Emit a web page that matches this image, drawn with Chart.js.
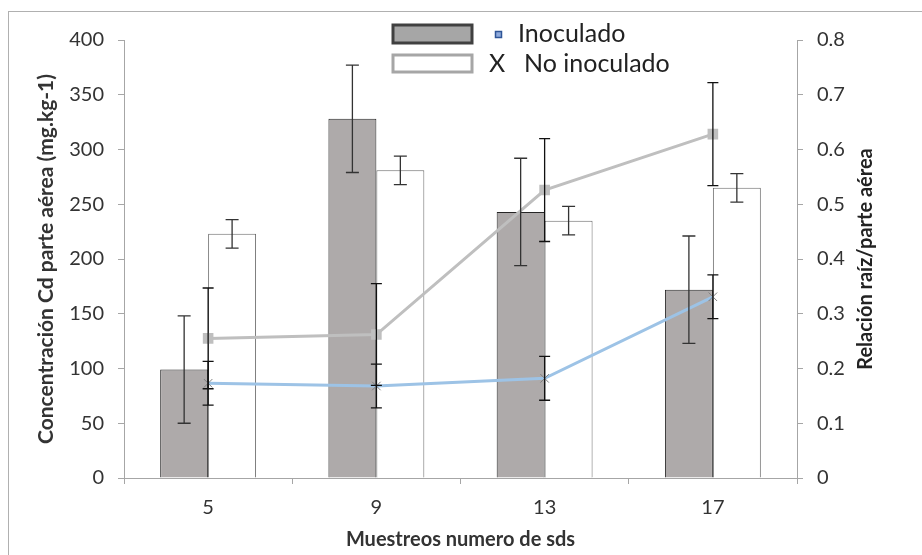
<!DOCTYPE html>
<html>
<head>
<meta charset="utf-8">
<script src="https://cdn.jsdelivr.net/npm/chart.js@4.4.1/dist/chart.umd.min.js"></script>
<style>
  html, body { margin: 0; padding: 0; background: #fff; }
  #wrap { width: 922px; height: 555px; }
</style>
</head>
<body>
<div id="wrap"><canvas id="chart" width="922" height="555"></canvas></div>
<script>
// muestreos (numero de sds)
let categories = ['5', '9', '13', '17'];

// concentracion Cd parte aerea (mg.kg-1)
let inoculado = [99, 328, 243, 172];
let inoculadoErr = [49, 49, 49, 49];
let noInoculado = [223, 281, 235, 265];
let noInoculadoErr = [13, 13, 13, 13];

// relacion raiz/parte aerea
let relacionGris = [0.255, 0.262, 0.526, 0.628];
let relacionGrisErr = [0.092, 0.093, 0.094, 0.094];
let relacionAzul = [0.173, 0.168, 0.182, 0.331];
let relacionAzulErr = [0.04, 0.04, 0.04, 0.04];

Chart.defaults.font.family = 'Lato, "Open Sans", sans-serif';
Chart.defaults.color = '#333';

let axisColor = '#a6a6a6';

// whiskers for every dataset that carries an "err" array
let errorBars = {
    id: 'errorBars',
    afterDatasetsDraw(chart) {
        let ctx = chart.ctx;
        chart.data.datasets.forEach((ds, i) => {
            if (!ds.err) return;
            let meta = chart.getDatasetMeta(i);
            let scale = chart.scales[ds.yAxisID];
            ctx.save();
            ctx.strokeStyle = ds.errColor;
            ctx.lineWidth = 1.3;
            meta.data.forEach((el, j) => {
                let x = el.x;
                let yTop = scale.getPixelForValue(ds.data[j] + ds.err[j]);
                let yBot = scale.getPixelForValue(ds.data[j] - ds.err[j]);
                let w = ds.capHalf;
                ctx.beginPath();
                ctx.moveTo(x, yTop); ctx.lineTo(x, yBot);
                ctx.moveTo(x - w, yTop); ctx.lineTo(x + w, yTop);
                ctx.moveTo(x - w, yBot); ctx.lineTo(x + w, yBot);
                ctx.stroke();
            });
            ctx.restore();
        });
    }
};

// outer frame, legend and right axis title
let decorations = {
    id: 'decorations',
    afterDraw(chart) {
        let ctx = chart.ctx;
        let area = chart.chartArea;
        ctx.save();
        ctx.strokeStyle = '#b0b0b0';
        ctx.lineWidth = 1;
        ctx.strokeRect(8.5, 11.5, 1000, 1000);

        // legend
        ctx.lineWidth = 3;
        ctx.fillStyle = '#a6a6a6';
        ctx.strokeStyle = '#404040';
        ctx.fillRect(393, 25, 79, 18);
        ctx.strokeRect(393, 25, 79, 18);
        ctx.fillStyle = '#ffffff';
        ctx.strokeStyle = '#a6a6a6';
        ctx.fillRect(393, 55, 79, 17);
        ctx.strokeRect(393, 55, 79, 17);

        ctx.lineWidth = 1.5;
        ctx.fillStyle = '#8faadc';
        ctx.strokeStyle = '#2f5597';
        ctx.fillRect(495.5, 31.5, 6, 6);
        ctx.strokeRect(495.5, 31.5, 6, 6);

        ctx.fillStyle = '#222';
        ctx.font = '25px Lato';
        ctx.textBaseline = 'middle';
        ctx.textAlign = 'left';
        ctx.fillText('Inoculado', 518, 34);
        ctx.fillText('X', 489, 64);
        ctx.fillText('No inoculado', 524, 64);

        // right axis title, read bottom to top
        ctx.translate(866, (area.top + area.bottom) / 2);
        ctx.rotate(-Math.PI / 2);
        ctx.textAlign = 'center';
        ctx.font = 'bold 20px Lato';
        ctx.fillText('Relación raíz/parte aérea', 0, 0);
        ctx.restore();
    }
};

let ctx = document.getElementById('chart').getContext('2d');
let chart = new Chart(ctx, {
    type: 'bar',
    data: {
        labels: categories,
        datasets: [
            {
                label: 'Inoculado',
                data: inoculado,
                err: inoculadoErr,
                errColor: '#333',
                capHalf: 6.5,
                yAxisID: 'y',
                backgroundColor: '#aeaaaa',
                borderColor: '#262626',
                borderWidth: 1,
                categoryPercentage: 0.57,
                barPercentage: 1,
                order: 2
            },
            {
                label: 'No inoculado',
                data: noInoculado,
                err: noInoculadoErr,
                errColor: '#333',
                capHalf: 6.5,
                yAxisID: 'y',
                backgroundColor: '#ffffff',
                borderColor: '#6b6b6b',
                borderWidth: 1,
                categoryPercentage: 0.57,
                barPercentage: 1,
                order: 2
            },
            {
                type: 'line',
                label: 'Relación inoculado',
                data: relacionGris,
                err: relacionGrisErr,
                errColor: '#111',
                capHalf: 5.5,
                yAxisID: 'y1',
                borderColor: '#bfbfbf',
                backgroundColor: '#bfbfbf',
                borderWidth: 3,
                pointStyle: 'rect',
                pointRadius: 7.5,
                pointBorderWidth: 0,
                tension: 0,
                order: 1
            },
            {
                type: 'line',
                label: 'Relación no inoculado',
                data: relacionAzul,
                err: relacionAzulErr,
                errColor: '#111',
                capHalf: 5.5,
                yAxisID: 'y1',
                borderColor: '#9dc3e6',
                backgroundColor: '#9dc3e6',
                borderWidth: 3,
                pointStyle: 'crossRot',
                pointRadius: 6,
                pointBorderColor: '#7f7f7f',
                pointBorderWidth: 1,
                tension: 0,
                order: 0
            }
        ]
    },
    options: {
        responsive: false,
        animation: false,
        layout: { padding: { top: 40, left: 0, right: 0, bottom: 0 } },
        plugins: {
            legend: { display: false },
            tooltip: { enabled: false }
        },
        scales: {
            x: {
                grid: { drawOnChartArea: false, color: axisColor, tickLength: 6, offset: true },
                border: { color: axisColor },
                ticks: { font: { size: 20 }, padding: 12 },
                title: {
                    display: true,
                    text: 'Muestreos numero de sds',
                    font: { size: 20, weight: 'bold' },
                    padding: { top: 0, bottom: 3 }
                },
                afterFit(scale) { scale.height = 77; }
            },
            y: {
                position: 'left',
                min: 0,
                max: 400,
                ticks: { stepSize: 50, font: { size: 20 }, padding: 14 },
                grid: { drawOnChartArea: false, color: axisColor, tickLength: 6 },
                border: { color: axisColor },
                title: {
                    display: true,
                    text: 'Concentración Cd parte aérea (mg.kg-1)',
                    font: { size: 21, weight: 'bold' },
                    padding: { top: 34, bottom: 0 }
                },
                afterFit(scale) { scale.width = 124; }
            },
            y1: {
                position: 'right',
                min: 0,
                max: 0.8,
                ticks: { stepSize: 0.1, font: { size: 20 }, padding: 14 },
                grid: { drawOnChartArea: false, color: axisColor, tickLength: 6 },
                border: { color: axisColor },
                afterFit(scale) { scale.width = 125; }
            }
        }
    },
    plugins: [errorBars, decorations]
});
</script>
</body>
</html>
